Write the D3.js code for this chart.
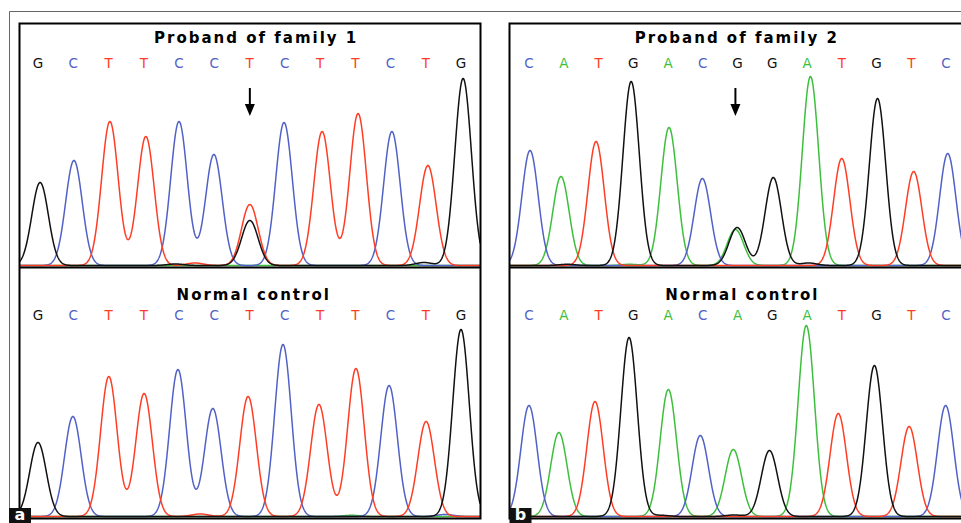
<!DOCTYPE html>
<html lang="en">
<head>
  <meta charset="UTF-8">
  <title>Sequencing chromatograms</title>
  <script src="https://d3js.org/d3.v7.min.js"></script>
  <style>
    body { margin: 0; background: #fff; }
    svg { display: block; }
    .title {
      font-family: "DejaVu Sans", sans-serif;
      font-weight: bold;
      font-size: 15px;
      letter-spacing: 2px;
      text-anchor: middle;
    }
    .call {
      font-family: "DejaVu Sans", sans-serif;
      font-size: 13.5px;
      text-anchor: middle;
    }
    .trace { fill: none; stroke-width: 1.5; stroke-linejoin: round; }
    .tag { font-family: "DejaVu Sans", sans-serif; font-weight: bold; font-size: 16px; fill: #fff; text-anchor: middle; }
  </style>
</head>
<body>
  <svg width="961" height="523"></svg>

  <script>
    // base calls printed above the traces
    const callsFam1 = ["G","C","T","T","C","C","T","C","T","T","C","T","G"];
    const callsFam2 = ["C","A","T","G","A","C","G","G","A","T","G","T","C"];
    const callsCtrl2 = ["C","A","T","G","A","C","A","G","A","T","G","T","C"];

    // peaks: base of the dye, position (in base units), height (RFU)
    // proband of family 1 (het T/G at position 6)
    const basesP1 = ["G","C","T","T","C","C","T","G","C","T","T","C","T","G","T","G","G"];
    const posP1   = [0.06,1.02,2.04,3.06,4.00,4.99,6.01,6.01,6.98,8.06,9.08,10.04,11.06,12.06,4.45,3.9,10.95];
    const rfuP1   = [830,1050,1440,1290,1440,1110,610,450,1430,1340,1520,1340,1000,1870,25,15,30];

    // normal control, family 1
    const basesC1 = ["G","C","T","T","C","C","T","C","T","T","C","T","G","T","A","C"];
    const posC1   = [0.0,0.99,2.01,3.01,3.97,4.96,5.96,6.95,7.97,9.02,9.96,11.01,12.0,4.6,8.9,11.55];
    const rfuC1   = [740,1000,1400,1230,1470,1080,1200,1720,1120,1480,1310,950,1870,25,12,20];

    // proband of family 2 (het A/G at position 6)
    const basesP2 = ["C","A","T","G","A","C","A","G","G","A","T","G","T","C","G","A","G"];
    const posP2   = [0.03,0.92,1.93,2.94,4.03,4.99,5.94,5.99,7.03,8.10,9.0,10.03,11.07,12.05,1.1,2.9,8.05];
    const rfuP2   = [1150,890,1240,1840,1380,870,360,380,880,1890,1070,1670,940,1120,12,12,25];

    // normal control, family 2
    const basesC2 = ["C","A","T","G","A","C","A","G","A","T","G","T","C","G","G"];
    const posC2   = [0.0,0.86,1.90,2.88,4.01,4.93,5.88,6.92,7.98,8.90,9.94,10.94,11.99,3.8,5.9];
    const rfuC2   = [1110,840,1150,1790,1270,810,670,660,1910,1030,1510,900,1110,12,15];

    const dyeColor = { A: "#3dbf3d", C: "#5161c6", G: "#111111", T: "#ff3d24" };
    const dyeOrder = ["A", "C", "T", "G"];
    const sigma = 0.235; // peak width in base units

    const svg = d3.select("svg");

    // outer thin frame
    svg.append("path")
      .attr("d", "M9.5,523V11.5H961")
      .attr("fill", "none")
      .attr("stroke", "#666")
      .attr("stroke-width", 1);

    const panels = [
      {
        tag: "a", left: 19.5, right: 480.5,
        x: d3.scaleLinear().domain([0, 12]).range([38, 461]),
        rows: [
          { title: "Proband of family 1", titleAt: 6.19, calls: callsFam1, bases: basesP1, pos: posP1, rfu: rfuP1, arrow: 6 },
          { title: "Normal control", titleAt: 6.12, calls: callsFam1, bases: basesC1, pos: posC1, rfu: rfuC1 }
        ]
      },
      {
        tag: "b", left: 509.5, right: 975,
        x: d3.scaleLinear().domain([0, 12]).range([529, 946]),
        rows: [
          { title: "Proband of family 2", titleAt: 5.98, calls: callsFam2, bases: basesP2, pos: posP2, rfu: rfuP2, arrow: 6 },
          { title: "Normal control", titleAt: 6.14, calls: callsCtrl2, bases: basesC2, pos: posC2, rfu: rfuC2 }
        ]
      }
    ];

    // vertical layout of the two rows
    const rowLayout = [
      { top: 23.5, bottom: 267.5, titleY: 43, callY: 68, base: 265.5 },
      { top: 267.5, bottom: 518.5, titleY: 300, callY: 320, base: 516.5 }
    ];

    panels.forEach((p, pi) => {
      const g = svg.append("g");
      const x = p.x;

      p.rows.forEach((row, ri) => {
        const lay = rowLayout[ri];
        const y = d3.scaleLinear().domain([0, 2000]).range([lay.base, lay.base - 200]);

        const clipId = `clip-${pi}-${ri}`;
        svg.append("clipPath").attr("id", clipId)
          .append("rect")
          .attr("x", p.left).attr("y", lay.top)
          .attr("width", p.right - p.left).attr("height", lay.bottom - lay.top);

        // title and base calls
        g.append("text").attr("class", "title")
          .attr("x", x(row.titleAt)).attr("y", lay.titleY)
          .text(row.title);

        g.selectAll(null)
          .data(row.calls)
          .join("text")
          .attr("class", "call")
          .attr("x", (d, i) => x(i))
          .attr("y", lay.callY)
          .attr("fill", d => dyeColor[d])
          .text(d => d);

        // one trace per dye, built from its peaks
        const i0 = x.invert(p.left), i1 = x.invert(p.right);
        const samples = d3.range(i0, i1, 0.01);
        const traceG = g.append("g").attr("clip-path", `url(#${clipId})`);

        dyeOrder.forEach(dye => {
          const peaks = row.bases
            .map((b, k) => ({ b, pos: row.pos[k], rfu: row.rfu[k] }))
            .filter(d => d.b === dye);
          const values = samples.map(t => [t, d3.sum(peaks, d =>
            d.rfu * Math.exp(-((t - d.pos) ** 2) / (2 * sigma * sigma)))]);

          traceG.append("path")
            .datum(values)
            .attr("class", "trace")
            .attr("stroke", dyeColor[dye])
            .attr("d", d3.line().x(d => x(d[0])).y(d => y(d[1])));
        });

        // arrow marking the heterozygous position
        if (row.arrow !== undefined) {
          const ax = x(row.pos[row.arrow]);
          g.append("line")
            .attr("x1", ax).attr("x2", ax)
            .attr("y1", 88).attr("y2", 106)
            .attr("stroke", "#000").attr("stroke-width", 2);
          g.append("path")
            .attr("d", `M${ax - 5},104L${ax + 5},104L${ax},116Z`)
            .attr("fill", "#000");
        }
      });

      // panel box and divider
      g.append("rect")
        .attr("x", p.left).attr("y", rowLayout[0].top)
        .attr("width", p.right - p.left)
        .attr("height", rowLayout[1].bottom - rowLayout[0].top)
        .attr("fill", "none").attr("stroke", "#000").attr("stroke-width", 2);
      g.append("line")
        .attr("x1", p.left).attr("x2", p.right)
        .attr("y1", rowLayout[0].bottom).attr("y2", rowLayout[0].bottom)
        .attr("stroke", "#000").attr("stroke-width", 2);

      // panel letter
      const tx = pi === 0 ? 9 : p.left;
      g.append("rect")
        .attr("x", tx).attr("y", 508)
        .attr("width", 22).attr("height", 15)
        .attr("fill", "#111");
      g.append("text").attr("class", "tag")
        .attr("x", tx + 11).attr("y", 520)
        .text(p.tag);
    });
  </script>
</body>
</html>
